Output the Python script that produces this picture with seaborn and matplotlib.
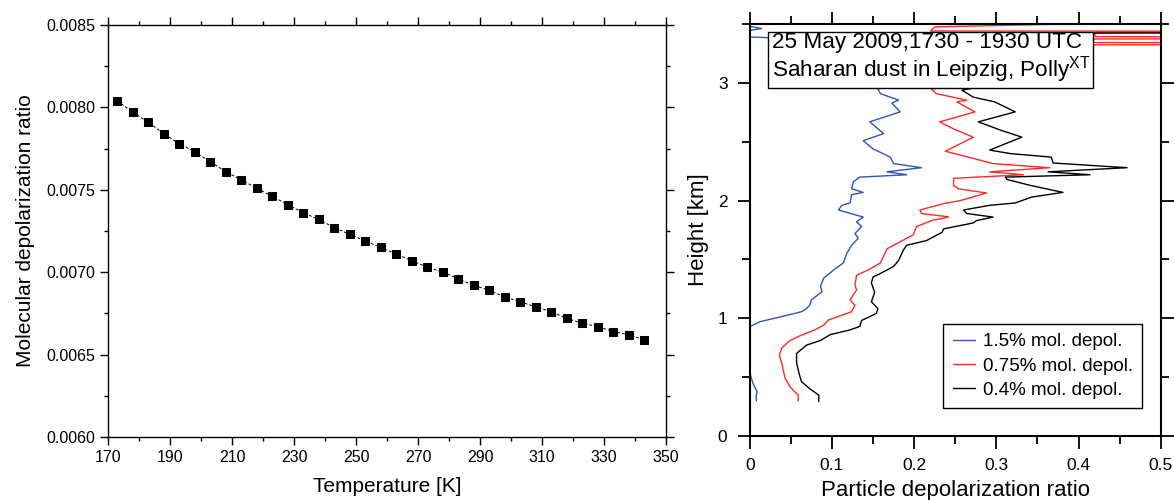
import matplotlib
matplotlib.use("Agg")
import matplotlib.pyplot as plt
from matplotlib.ticker import MultipleLocator, FixedLocator, FuncFormatter
import pandas as pd
import seaborn as sns

# Molecular depolarization ratio versus temperature
temperature_k = list(range(173, 344, 5))
mol_depol = [0.00804, 0.00797, 0.00791, 0.00784, 0.00778, 0.00773, 0.00767,
             0.00761, 0.00756, 0.00751, 0.00746, 0.00741, 0.00736, 0.00732,
             0.00727, 0.00723, 0.00719, 0.00715, 0.00711, 0.00707, 0.00703,
             0.00700, 0.00696, 0.00692, 0.00689, 0.00685, 0.00682, 0.00679,
             0.00676, 0.00672, 0.00669, 0.00667, 0.00664, 0.00662, 0.00659]
temp_ticks = list(range(170, 351, 20))

# Particle depolarization profiles for three assumed molecular values
height_15 = [0.295, 0.345, 0.375, 0.445, 0.50, 0.545, 0.60, 0.70, 0.82, 0.90,
             0.927, 0.97, 1.01, 1.055, 1.075, 1.11, 1.155, 1.225, 1.27, 1.34,
             1.42, 1.47, 1.55, 1.62, 1.68, 1.72, 1.78, 1.82, 1.86, 1.92,
             1.96, 1.98, 2.05, 2.07, 2.10, 2.16, 2.20, 2.22, 2.245, 2.28,
             2.315, 2.37, 2.44, 2.51, 2.57, 2.67, 2.755, 2.83, 2.855, 2.91,
             2.95, 2.97, 3.00, 3.10, 3.20, 3.30, 3.383, 3.388, 3.40, 3.44,
             3.448, 3.464, 3.483, 3.50]
depol_15 = [0.008, 0.008, 0.009, 0.004, 0.0015, 0.0004, -0.010, -0.020, -0.015, -0.004,
            0.000, 0.0125, 0.037, 0.063, 0.068, 0.073, 0.075, 0.088, 0.086, 0.090,
            0.104, 0.114, 0.118, 0.124, 0.132, 0.128, 0.136, 0.130, 0.138, 0.108,
            0.112, 0.122, 0.124, 0.138, 0.124, 0.126, 0.134, 0.191, 0.167, 0.209,
            0.175, 0.171, 0.150, 0.138, 0.163, 0.146, 0.183, 0.173, 0.181, 0.159,
            0.156, 0.171, 0.165, 0.120, 0.080, 0.060, 0.030, 0.016, -0.030, -0.020,
            0.000, 0.0145, 0.000, -0.020]

height_075 = [0.295, 0.345, 0.415, 0.49, 0.615, 0.685, 0.745, 0.785, 0.81, 0.85,
              0.90, 0.94, 0.985, 1.055, 1.11, 1.155, 1.24, 1.28, 1.365, 1.41,
              1.47, 1.59, 1.65, 1.71, 1.78, 1.835, 1.85, 1.862, 1.89, 1.92,
              1.975, 2.00, 2.065, 2.10, 2.13, 2.19, 2.22, 2.245, 2.28, 2.315,
              2.37, 2.42, 2.54, 2.61, 2.67, 2.755, 2.84, 2.855, 2.91, 2.95,
              2.97, 3.05, 3.20, 3.325, 3.33, 3.34, 3.345, 3.375, 3.38, 3.39,
              3.395, 3.43, 3.435, 3.44, 3.443, 3.478, 3.50]
depol_075 = [0.059, 0.059, 0.049, 0.043, 0.039, 0.036, 0.039, 0.045, 0.049, 0.061,
             0.079, 0.090, 0.096, 0.124, 0.128, 0.122, 0.130, 0.128, 0.130, 0.144,
             0.159, 0.167, 0.183, 0.199, 0.203, 0.223, 0.236, 0.242, 0.209, 0.207,
             0.236, 0.256, 0.288, 0.254, 0.248, 0.248, 0.333, 0.292, 0.365, 0.296,
             0.266, 0.238, 0.272, 0.248, 0.231, 0.274, 0.252, 0.264, 0.227, 0.221,
             0.250, 0.260, 0.300, 0.410, 0.900, 0.900, 0.410, 0.420, 0.900, 0.900,
             0.420, 0.420, 0.900, 0.900, 0.220, 0.225, 0.370]

height_04 = [0.29, 0.345, 0.40, 0.46, 0.53, 0.62, 0.70, 0.77, 0.81, 0.86,
             0.90, 0.93, 0.98, 1.04, 1.08, 1.14, 1.22, 1.30, 1.35, 1.38,
             1.44, 1.49, 1.58, 1.62, 1.66, 1.73, 1.76, 1.81, 1.83, 1.86,
             1.89, 1.92, 1.96, 1.98, 2.03, 2.07, 2.13, 2.18, 2.20, 2.22,
             2.245, 2.28, 2.32, 2.37, 2.40, 2.43, 2.54, 2.60, 2.67, 2.755,
             2.84, 2.88, 2.94, 2.97, 3.05, 3.20, 3.40, 3.425, 3.43, 3.50]
depol_04 = [0.084, 0.084, 0.073, 0.063, 0.060, 0.057, 0.057, 0.069, 0.086, 0.098,
            0.122, 0.134, 0.136, 0.154, 0.156, 0.148, 0.152, 0.148, 0.150, 0.159,
            0.175, 0.181, 0.187, 0.191, 0.215, 0.234, 0.236, 0.272, 0.276, 0.296,
            0.264, 0.260, 0.292, 0.323, 0.343, 0.381, 0.341, 0.313, 0.311, 0.414,
            0.363, 0.459, 0.369, 0.367, 0.317, 0.292, 0.331, 0.305, 0.278, 0.323,
            0.298, 0.272, 0.258, 0.284, 0.300, 0.330, 0.400, 0.410, 0.900, 0.900]

series_labels = ["1.5% mol. depol.", "0.75% mol. depol.", "0.4% mol. depol."]
series_colors = ["#3352b5", "#ff2a2a", "#000000"]

sns.set_theme(style="ticks")
plt.rcParams["font.family"] = ["Liberation Sans", "DejaVu Sans"]
plt.rcParams["mathtext.fontset"] = "custom"
plt.rcParams["mathtext.rm"] = "Liberation Sans"
plt.rcParams["axes.edgecolor"] = "black"
plt.rcParams["xtick.color"] = "black"
plt.rcParams["ytick.color"] = "black"
plt.rcParams["text.color"] = "black"
plt.rcParams["axes.labelcolor"] = "black"

fig = plt.figure(figsize=(11.74, 5.0), dpi=100)
ax1 = fig.add_axes([0.092, 0.126, 0.4753, 0.824])
ax2 = fig.add_axes([0.6386, 0.1286, 0.3501, 0.8228])

# Left panel: temperature dependence
sns.lineplot(x=temperature_k, y=mol_depol, ax=ax1, color="black",
             linestyle=(0, (3, 2)), linewidth=0.7, marker="s", markersize=5.3,
             markeredgecolor="black", markerfacecolor="black")
ax1.set_xlim(170, 350)
ax1.set_ylim(0.0060, 0.0085)
ax1.xaxis.set_major_locator(FixedLocator(temp_ticks))
ax1.xaxis.set_minor_locator(MultipleLocator(10))
ax1.yaxis.set_major_locator(MultipleLocator(0.0005))
ax1.yaxis.set_minor_locator(MultipleLocator(0.00025))
ax1.yaxis.set_major_formatter(FuncFormatter(lambda v, p: f"{v:.4f}"))
ax1.tick_params(which="both", direction="out", top=True, right=True,
                labelsize=11.5, width=1.0, pad=3)
ax1.tick_params(which="major", length=6)
ax1.tick_params(which="minor", length=3)
for sp in ax1.spines.values():
    sp.set_visible(True)
    sp.set_linewidth(1.0)
    sp.set_color("black")
ax1.set_xlabel("Temperature [K]", fontsize=15, labelpad=9)
ax1.set_ylabel("Molecular depolarization ratio", fontsize=15, labelpad=8)

# Right panel: particle depolarization profiles
frames = []
for lab, h, d in zip(series_labels, [height_15, height_075, height_04],
                     [depol_15, depol_075, depol_04]):
    frames.append(pd.DataFrame({"height": h, "depol": d, "series": lab}))
profiles = pd.concat(frames, ignore_index=True)

sns.lineplot(data=profiles, x="depol", y="height", hue="series",
             hue_order=series_labels, palette=dict(zip(series_labels, series_colors)),
             sort=False, estimator=None, orient="y", linewidth=1.0, ax=ax2)
ax2.set_xlim(0, 0.5)
ax2.set_ylim(0, 3.5)
ax2.xaxis.set_major_locator(MultipleLocator(0.1))
ax2.xaxis.set_minor_locator(MultipleLocator(0.05))
ax2.yaxis.set_major_locator(MultipleLocator(1))
ax2.yaxis.set_minor_locator(MultipleLocator(0.5))
ax2.xaxis.set_major_formatter(FuncFormatter(lambda v, p: f"{v:g}"))
ax2.tick_params(which="both", direction="out", top=True, right=True,
                labelsize=12.5, width=1.3, pad=7)
ax2.tick_params(which="major", length=9)
ax2.tick_params(which="minor", length=5.5)
for sp in ax2.spines.values():
    sp.set_visible(True)
    sp.set_linewidth(1.5)
    sp.set_color("black")
ax2.set_xlabel("Particle depolarization ratio", fontsize=16, labelpad=5)
ax2.set_ylabel("Height [km]", fontsize=16, labelpad=6)

ax2.text(0.053, 0.982, "25 May 2009,1730 - 1930 UTC\nSaharan dust in Leipzig, Polly$^{\\mathrm{XT}}$",
         transform=ax2.transAxes, ha="left", va="top", fontsize=16.2, linespacing=1.05,
         zorder=5,
         bbox=dict(boxstyle="square,pad=0.15", facecolor="white", edgecolor="black",
                   linewidth=1.0))

leg = ax2.legend(loc="lower right", bbox_to_anchor=(0.955, 0.067), borderaxespad=0,
                 frameon=True, fancybox=False, edgecolor="black", framealpha=1,
                 fontsize=13.5, handlelength=1.2, handletextpad=0.4, borderpad=0.5,
                 labelspacing=0.38, title=None)
leg.get_frame().set_linewidth(1.0)
for line in leg.get_lines():
    line.set_linewidth(1.0)

fig.savefig("out.png", dpi=100)
